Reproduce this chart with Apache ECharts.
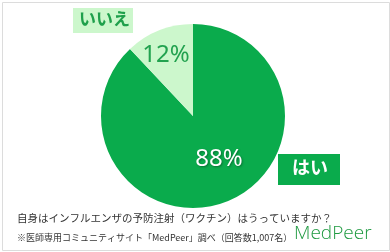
<!DOCTYPE html>
<html><head><meta charset="utf-8">
<script src="https://cdn.jsdelivr.net/npm/echarts@6/dist/echarts.min.js"></script>
<style>html,body{margin:0;padding:0;background:#fff}#c{width:390px;height:252px}</style>
</head><body><div id="c"></div>
<script>
const categories = ['はい', 'いいえ'];
const values = [88, 12];
const question = '自身はインフルエンザの予防注射（ワクチン）はうっていますか？';
const source = '※医師専用コミュニティサイト「MedPeer」調べ（回答数1,007名）';
const brand = 'MedPeer';

const F = '"Noto Sans CJK JP", "Noto Sans", sans-serif';
const dark = '#0aab4c', light = '#ccf7cc';
const chart = echarts.init(document.getElementById('c'), null, {renderer: 'canvas'});
chart.setOption({
  animation: false,
  backgroundColor: '#fff',
  series: [{
    type: 'pie',
    center: [193, 116],
    radius: [0, 92],
    startAngle: 90,
    clockwise: true,
    data: categories.map((n, i) => ({name: n, value: values[i],
      itemStyle: {color: i === 0 ? dark : light},
      label: {color: i === 0 ? '#fff' : '#22a24f',
        textShadowColor: i === 0 ? 'rgba(0,0,0,0.35)' : 'transparent', textShadowBlur: 2, textShadowOffsetX: 1, textShadowOffsetY: 1}})),
    itemStyle: {borderColor: '#fff', borderWidth: 0},
    label: {show: true, position: 'inside', formatter: '{c}%', fontFamily: '"Noto Sans", sans-serif', fontSize: 24, fontWeight: 'normal'},
    labelLine: {show: false},
    labelLayout: function (p) {
      return p.dataIndex === 1 ? {dx: -9, dy: -15} : {dx: 8, dy: -2};
    }
  }],
  graphic: [
    {type: 'rect', left: 0, top: 0, shape: {width: 387, height: 248}, style: {fill: 'none', stroke: '#dcdcdc', lineWidth: 1}, silent: true},
    {type: 'rect', left: 73, top: 8, shape: {width: 60, height: 25}, style: {fill: light}},
    {type: 'text', left: 79, top: 10, style: {text: categories[1], fill: '#1fa04c', font: 'bold 17px ' + F}},
    {type: 'rect', left: 278, top: 154, shape: {width: 62, height: 31}, style: {fill: dark}},
    {type: 'text', left: 292, top: 158, style: {text: categories[0], fill: '#fff', font: 'bold 18px ' + F}},
    {type: 'text', left: 17, top: 213, style: {text: question, fill: '#333', font: '10.5px ' + F}},
    {type: 'text', left: 17, top: 233, style: {text: source, fill: '#333', font: '9px ' + F}},
    {type: 'text', left: 294, top: 224, style: {text: brand, fill: '#1f9a41', font: '300 19px ' + '"Open Sans", "Noto Sans", sans-serif'}}
  ]
});
</script></body></html>
